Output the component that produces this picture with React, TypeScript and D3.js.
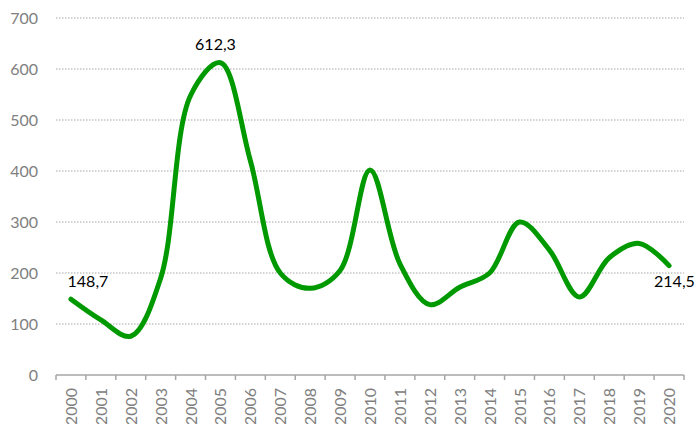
import React from "react";
import * as d3 from "d3";

const years = ["2000","2001","2002","2003","2004","2005","2006","2007","2008","2009","2010","2011","2012","2013","2014","2015","2016","2017","2018","2019","2020"];
const values = [148.7,108,76,190,548,612.3,420,200,170,205,402,218,138,172,200,300,245,153,230,258,214.5];
const yTicks = [0,100,200,300,400,500,600,700];
const labelled = [
  { i: 0, text: "148,7", dx: 17, dy: -12, anchor: "middle" },
  { i: 5, text: "612,3", dx: -5, dy: -13, anchor: "middle" },
  { i: 20, text: "214,5", dx: -15, dy: 21, anchor: "start" },
];

export default function App() {
  const W = 698, H = 424;
  const left = 56, right = 684, top = 18, bottom = 375;
  const x = d3.scaleBand<string>().domain(years).range([left, right]);
  const y = d3.scaleLinear().domain([0, 700]).range([bottom, top]);
  const cx = (i: number) => (x(years[i]) as number) + x.bandwidth() / 2;
  const line = d3.line<number>().x((_, i) => cx(i)).y(d => y(d)).curve(d3.curveCatmullRom.alpha(0.5));
  const boundaries = d3.range(years.length + 1).map(i => left + i * x.bandwidth());
  const font = "Lato, 'Open Sans', sans-serif";
  return (
    <svg width={W} height={H} style={{ position: "absolute", left: 0, top: 0, background: "#fff" }}>
      {yTicks.filter(t => t > 0).map(t => (
        <line key={t} x1={left} x2={right} y1={y(t)} y2={y(t)} stroke="#a6a6a6" strokeWidth={1} strokeDasharray="1.5,1.5" />
      ))}
      {yTicks.map(t => (
        <text key={t} x={38} y={y(t)} dy="0.35em" textAnchor="end" fill="#808080" fontSize={16} fontFamily={font}>{t}</text>
      ))}
      <line x1={left} x2={right} y1={bottom} y2={bottom} stroke="#a6a6a6" strokeWidth={1.5} />
      {boundaries.map((b, i) => (
        <line key={i} x1={b} x2={b} y1={bottom} y2={bottom + 5} stroke="#a6a6a6" strokeWidth={1.5} />
      ))}
      {years.map((yr, i) => (
        <text key={yr} transform={`translate(${cx(i) + 6},${bottom + 13}) rotate(-90)`} textAnchor="end" fill="#808080" fontSize={16} fontFamily={font}>{yr}</text>
      ))}
      <path d={line(values) || ""} fill="none" stroke="#009900" strokeWidth={5} strokeLinecap="round" strokeLinejoin="round" />
      {labelled.map(l => (
        <text key={l.i} x={cx(l.i) + l.dx} y={y(values[l.i]) + l.dy} textAnchor={l.anchor as any} fill="#000" fontSize={16} fontFamily={font}>{l.text}</text>
      ))}
    </svg>
  );
}
